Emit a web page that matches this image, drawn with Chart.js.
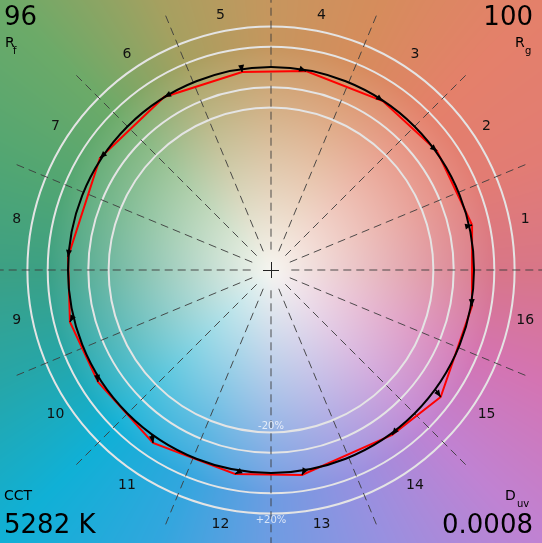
<!DOCTYPE html>
<html>
<head>
<meta charset="utf-8">
<script src="https://cdn.jsdelivr.net/npm/chart.js@4/dist/chart.umd.min.js"></script>
<style>
  html, body { margin: 0; padding: 0; background: #fff; }
  #wrap { width: 542px; height: 543px; }
</style>
</head>
<body>
<div id="wrap"><canvas id="cvgChart" width="542" height="543"></canvas></div>
<script>
// Hue bins of the colour vector graphic
const hueBins = ['1', '2', '3', '4', '5', '6', '7', '8', '9', '10', '11', '12', '13', '14', '15', '16'];

// Test source: mean hue angle (deg) and chroma relative to the reference (circle = 1)
const testAngle = [12.6, 35.6, 56.5, 80.0, 98.3, 121.7, 146.8, 176.3, 194.5, 212.9, 235.7, 260.0, 278.6, 306.3, 323.2, 349.8];
const testChroma = [1.015, 1.006, 0.998, 0.995, 0.986, 1.002, 1.007, 1.002, 1.023, 1.015, 1.031, 1.020, 1.021, 1.008, 1.044, 1.006];

// Reference hue angle per bin (start of each arrow, on the unit circle)
const refAngle = [12.6, 37.0, 58.0, 81.5, 98.3, 120.0, 145.0, 174.5, 193.0, 211.0, 234.0, 261.5, 279.5, 308.0, 324.0, 351.5];

// Chroma rings (-20%, -10%, +10%, +20%)
const chromaRings = [0.8, 0.9, 1.1, 1.2];

// Summary values
const rf = '96';
const rg = '100';
const cct = '5282 K';
const duv = '0.0008';

// Background hue colours, one every 22.5 deg starting at 0 deg
const hueColors = [
  [216, 118, 136], [226, 124, 116], [228, 128, 106], [214, 140, 92],
  [198, 150, 94], [166, 160, 96], [108, 170, 104], [82, 166, 114],
  [60, 160, 132], [38, 166, 168], [16, 176, 214], [50, 166, 222],
  [110, 156, 226], [152, 144, 224], [192, 130, 210], [212, 116, 178],
];
const centerColor = [246, 245, 240];

const rad = (d) => (d * Math.PI) / 180;
const polar = (r, a) => ({ x: r * Math.cos(rad(a)), y: r * Math.sin(rad(a)) });

const testPoints = testAngle.map((a, i) => polar(testChroma[i], a));
testPoints.push(testPoints[0]);

function hueColor(deg) {
  const f = deg / 22.5;
  const i = Math.floor(f) % 16;
  const j = (i + 1) % 16;
  const t = f - Math.floor(f);
  const a = hueColors[i];
  const b = hueColors[j];
  return [a[0] + (b[0] - a[0]) * t, a[1] + (b[1] - a[1]) * t, a[2] + (b[2] - a[2]) * t];
}

// Coloured background, pale in the middle
const background = {
  id: 'background',
  beforeDraw(chart) {
    const { ctx, scales: { x, y } } = chart;
    const w = chart.width;
    const h = chart.height;
    const cx = x.getPixelForValue(0);
    const cy = y.getPixelForValue(0);
    const unit = x.getPixelForValue(1) - cx;
    const img = ctx.createImageData(w, h);
    for (let py = 0; py < h; py++) {
      for (let px = 0; px < w; px++) {
        const dx = (px - cx) / unit;
        const dy = (cy - py) / unit;
        const r = Math.sqrt(dx * dx + dy * dy);
        let a = (Math.atan2(dy, dx) * 180) / Math.PI;
        if (a < 0) a += 360;
        const c = hueColor(a);
        const t = Math.min(1, r / 1.1);
        const k = (py * w + px) * 4;
        img.data[k] = centerColor[0] + (c[0] - centerColor[0]) * t;
        img.data[k + 1] = centerColor[1] + (c[1] - centerColor[1]) * t;
        img.data[k + 2] = centerColor[2] + (c[2] - centerColor[2]) * t;
        img.data[k + 3] = 255;
      }
    }
    ctx.putImageData(img, 0, 0);
  },
};

// Rings, radial hue bin lines, bin numbers
const grid = {
  id: 'grid',
  beforeDatasetsDraw(chart) {
    const { ctx, scales: { x, y } } = chart;
    const cx = x.getPixelForValue(0);
    const cy = y.getPixelForValue(0);
    const unit = x.getPixelForValue(1) - cx;
    ctx.save();

    ctx.strokeStyle = '#e4e4e4';
    ctx.lineWidth = 2;
    chromaRings.forEach((r) => {
      ctx.beginPath();
      ctx.arc(cx, cy, r * unit, 0, Math.PI * 2);
      ctx.stroke();
    });

    ctx.strokeStyle = 'rgba(60, 60, 60, 0.9)';
    ctx.lineWidth = 1;
    ctx.setLineDash([8, 5]);
    for (let i = 0; i < 16; i++) {
      const a = rad(i * 22.5);
      ctx.beginPath();
      ctx.moveTo(cx + 0.1 * unit * Math.cos(a), cy - 0.1 * unit * Math.sin(a));
      ctx.lineTo(cx + 1.36 * unit * Math.cos(a), cy - 1.36 * unit * Math.sin(a));
      ctx.stroke();
    }
    ctx.setLineDash([]);

    ctx.strokeStyle = '#222';
    ctx.beginPath();
    ctx.moveTo(cx - 8, Math.round(cy) + 0.5);
    ctx.lineTo(cx + 8, Math.round(cy) + 0.5);
    ctx.moveTo(Math.round(cx) + 0.5, cy - 8);
    ctx.lineTo(Math.round(cx) + 0.5, cy + 8);
    ctx.stroke();

    ctx.fillStyle = '#111';
    ctx.font = '14px "DejaVu Sans"';
    ctx.textAlign = 'center';
    ctx.textBaseline = 'middle';
    hueBins.forEach((label, i) => {
      const a = rad(11.25 + i * 22.5);
      ctx.fillText(label, cx + 1.277 * unit * Math.cos(a), cy - 1.277 * unit * Math.sin(a));
    });

    ctx.fillStyle = 'rgba(255, 255, 255, 0.75)';
    ctx.font = '10px "DejaVu Sans"';
    ctx.fillText('-20%', cx, cy + 0.8 * unit - 6);
    ctx.fillText('+20%', cx, cy + 1.2 * unit + 7);
    ctx.restore();
  },
};

// Reference circle and the arrows from reference to test
const reference = {
  id: 'reference',
  afterDatasetsDraw(chart) {
    const { ctx, scales: { x, y } } = chart;
    const cx = x.getPixelForValue(0);
    const cy = y.getPixelForValue(0);
    const unit = x.getPixelForValue(1) - cx;
    ctx.save();
    ctx.strokeStyle = '#000';
    ctx.lineWidth = 2;
    ctx.beginPath();
    ctx.arc(cx, cy, unit, 0, Math.PI * 2);
    ctx.stroke();

    ctx.fillStyle = '#000';
    ctx.lineWidth = 1.5;
    refAngle.forEach((a, i) => {
      const p0 = polar(1, a);
      const p1 = testPoints[i];
      const x0 = x.getPixelForValue(p0.x);
      const y0 = y.getPixelForValue(p0.y);
      const x1 = x.getPixelForValue(p1.x);
      const y1 = y.getPixelForValue(p1.y);
      const ang = Math.atan2(y1 - y0, x1 - x0);
      ctx.beginPath();
      ctx.moveTo(x0, y0);
      ctx.lineTo(x1, y1);
      ctx.stroke();
      ctx.beginPath();
      ctx.moveTo(x1, y1);
      ctx.lineTo(x1 - 7 * Math.cos(ang) + 3 * Math.sin(ang), y1 - 7 * Math.sin(ang) - 3 * Math.cos(ang));
      ctx.lineTo(x1 - 7 * Math.cos(ang) - 3 * Math.sin(ang), y1 - 7 * Math.sin(ang) + 3 * Math.cos(ang));
      ctx.closePath();
      ctx.fill();
    });
    ctx.restore();
  },
};

// Corner numbers
const corners = {
  id: 'corners',
  afterDraw(chart) {
    const { ctx } = chart;
    const w = chart.width;
    ctx.save();
    ctx.fillStyle = '#000';
    ctx.textBaseline = 'alphabetic';

    ctx.font = '26px "DejaVu Sans"';
    ctx.textAlign = 'left';
    ctx.fillText(rf, 4, 25);
    ctx.fillText(cct, 4, 533);
    ctx.textAlign = 'right';
    ctx.fillText(rg, w - 9, 25);
    ctx.fillText(duv, w - 9, 533);

    ctx.textAlign = 'left';
    ctx.font = '14px "DejaVu Sans"';
    ctx.fillText('R', 5, 47);
    ctx.fillText('R', 515, 47);
    ctx.fillText('CCT', 4, 500);
    ctx.fillText('D', 505, 500);
    ctx.font = '10px "DejaVu Sans"';
    ctx.fillText('f', 13, 54);
    ctx.fillText('g', 525, 54);
    ctx.fillText('uv', 517, 507);
    ctx.restore();
  },
};

const cvgChart = document.getElementById('cvgChart');
new Chart(cvgChart, {
  type: 'scatter',
  data: {
    datasets: [
      {
        data: testPoints,
        showLine: true,
        borderColor: '#ff0000',
        borderWidth: 2,
        pointRadius: 0,
        tension: 0,
      },
    ],
  },
  options: {
    responsive: false,
    animation: false,
    devicePixelRatio: 1,
    layout: { padding: 0 },
    plugins: { legend: { display: false }, tooltip: { enabled: false } },
    scales: {
      x: { type: 'linear', min: -271 / 203, max: 271 / 203, display: false },
      y: { type: 'linear', min: -273 / 203, max: 270 / 203, display: false },
    },
  },
  plugins: [background, grid, reference, corners],
});
</script>
</body>
</html>
